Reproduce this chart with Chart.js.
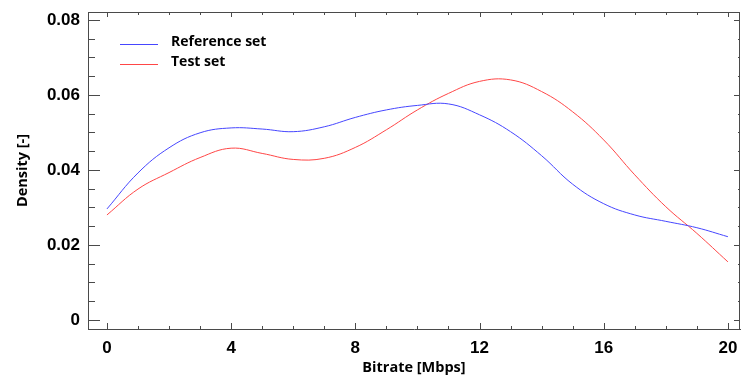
<!DOCTYPE html>
<html>
<head>
<meta charset="utf-8">
<script src="https://cdn.jsdelivr.net/npm/chart.js@4.4.1/dist/chart.umd.min.js"></script>
<style>
  html, body { margin: 0; padding: 0; background: #fff; }
  #wrap { width: 741px; height: 381px; }
</style>
</head>
<body>
<div id="wrap"><canvas id="kdeChart"></canvas></div>
<script>
// datos (densidad vs bitrate)
const bitrate = [0, 1, 2, 3, 4, 5, 6, 7, 8, 9, 10, 11, 12, 13, 14, 15, 16, 17, 18, 19, 20];
const referenceSet = [0.0296, 0.0392, 0.0459, 0.0499, 0.0512, 0.0509, 0.0502, 0.0515, 0.0540, 0.0560, 0.0572,
                      0.0576, 0.0547, 0.0502, 0.0438, 0.0362, 0.0310, 0.0280, 0.0263, 0.0246, 0.0222];
const testSet = [0.0280, 0.0349, 0.0393, 0.0433, 0.0458, 0.0444, 0.0428, 0.0431, 0.0460, 0.0507, 0.0560,
                 0.0604, 0.0636, 0.0640, 0.0609, 0.0555, 0.0480, 0.0387, 0.0302, 0.0231, 0.0155];
const xTicks = [0, 4, 8, 12, 16, 20];
const yTicks = [0, 0.02, 0.04, 0.06, 0.08];

const axisColor = '#4a4a4a';
const tickFont = { family: 'Liberation Sans', size: 17, weight: 'bold' };
const titleFont = { family: 'Open Sans', size: 14.5, weight: 'bold' };

// marcas hacia dentro, marco superior/derecho y leyenda dentro del area
const framePlugin = {
  id: 'frame',
  afterDraw(chart) {
    const c = chart.ctx, a = chart.chartArea;
    const xs = chart.scales.x, ys = chart.scales.y;
    c.save();
    c.strokeStyle = axisColor;
    c.lineWidth = 1;
    c.beginPath();
    c.moveTo(a.left, a.top + 0.5); c.lineTo(a.right, a.top + 0.5);
    c.moveTo(a.right - 0.5, a.top); c.lineTo(a.right - 0.5, a.bottom);
    // y ticks cada 0.005
    for (let i = 0; i <= 16; i++) {
      const v = i * 0.005;
      const py = Math.round(ys.getPixelForValue(v)) + 0.5;
      const major = i % 4 === 0;
      c.moveTo(a.left, py); c.lineTo(a.left + (major ? 12 : 7), py);
      c.moveTo(a.right, py); c.lineTo(a.right - (major ? 6 : 2), py);
    }
    // x ticks cada 1
    for (let i = 0; i <= 20; i++) {
      const px = Math.round(xs.getPixelForValue(i)) + 0.5;
      const major = i % 4 === 0;
      c.moveTo(px, a.bottom); c.lineTo(px, a.bottom - (major ? 6 : 3));
      c.moveTo(px, a.top); c.lineTo(px, a.top + (major ? 5 : 3));
    }
    c.stroke();

    // leyenda
    const items = chart.data.datasets;
    c.font = 'bold 14px "Open Sans"';
    c.textBaseline = 'middle';
    c.fillStyle = '#000';
    items.forEach((ds, k) => {
      const y = 44 + k * 20 + 0.5;
      c.strokeStyle = ds.borderColor;
      c.beginPath();
      c.moveTo(120, y); c.lineTo(158, y);
      c.stroke();
      c.fillText(ds.label, 171, y - 2);
    });
    c.restore();
  }
};

const ctx = document.getElementById('kdeChart').getContext('2d');
const kdeChart = new Chart(ctx, {
  type: 'line',
  data: {
    labels: bitrate,
    datasets: [{
      label: 'Reference set',
      data: bitrate.map((x, i) => ({ x: x, y: referenceSet[i] })),
      borderColor: 'rgb(70,70,255)',
      borderWidth: 1,
      pointRadius: 0,
      tension: 0.4
    }, {
      label: 'Test set',
      data: bitrate.map((x, i) => ({ x: x, y: testSet[i] })),
      borderColor: 'rgb(255,70,70)',
      borderWidth: 1,
      pointRadius: 0,
      tension: 0.4
    }]
  },
  options: {
    responsive: true,
    maintainAspectRatio: false,
    animation: false,
    layout: { padding: { top: 12, right: 1, left: 0, bottom: 0 } },
    plugins: {
      legend: { display: false },
      tooltip: { enabled: false }
    },
    scales: {
      x: {
        type: 'linear',
        min: -0.61,
        max: 20.39,
        afterBuildTicks: s => { s.ticks = xTicks.map(v => ({ value: v })); },
        afterFit: s => { s.height = 52; s.paddingLeft = 0; s.paddingRight = 0; },
        grid: { display: false, drawTicks: false },
        border: { display: true, color: axisColor, width: 1 },
        ticks: { color: '#000', font: tickFont, padding: 9, maxRotation: 0 },
        title: { display: true, text: 'Bitrate [Mbps]', color: '#000', font: titleFont, padding: { top: 6 } }
      },
      y: {
        min: -0.0024,
        max: 0.0821,
        afterBuildTicks: s => { s.ticks = yTicks.map(v => ({ value: v })); },
        afterFit: s => { s.width = 88; s.paddingTop = 0; s.paddingBottom = 0; },
        grid: { display: false, drawTicks: false },
        border: { display: true, color: axisColor, width: 1 },
        ticks: {
          color: '#000', font: tickFont, padding: 8,
          callback: v => v === 0 ? '0' : v.toFixed(2)
        },
        title: { display: true, text: 'Density [-]', color: '#000', font: titleFont, padding: { top: 14, bottom: 0 } }
      }
    }
  },
  plugins: [framePlugin]
});
</script>
</body>
</html>
